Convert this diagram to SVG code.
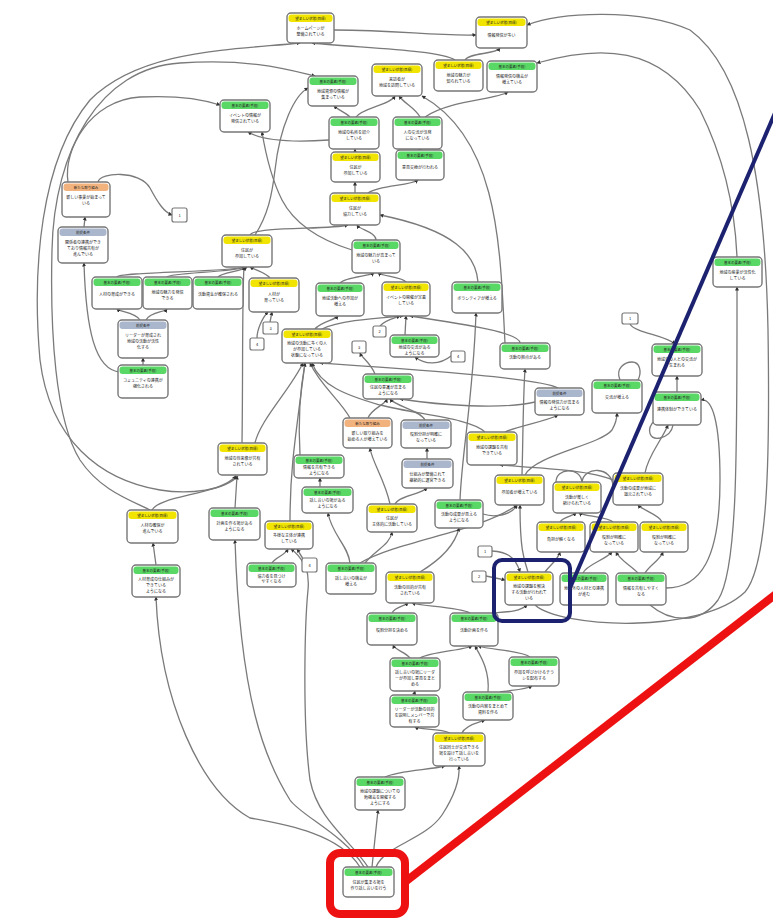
<svg xmlns="http://www.w3.org/2000/svg" width="773" height="920" viewBox="0 0 773 920">
<defs>
<marker id="a" markerWidth="4" markerHeight="4" refX="3.5" refY="2" orient="auto" markerUnits="userSpaceOnUse"><path d="M0,0 L4,2 L0,4z" fill="#333"/></marker>
<style>
.b{fill:#fff;stroke:#777;stroke-width:1.4}
.hy{fill:#f0e400}.hg{fill:#5ad865}.ho{fill:#f2b27e}.hb{fill:#a9b6cc}
.t{font-family:"Noto Sans CJK JP","Noto Sans",sans-serif;font-size:4px;fill:#222;text-anchor:middle}
.h{font-size:3.5px}
.e{fill:none;stroke:#7a7a7a;stroke-width:1.3;marker-end:url(#a)}
.l{fill:none;stroke:#7a7a7a;stroke-width:1.3}
.s{fill:#fff;stroke:#777;stroke-width:1.2}
</style>
</defs>
<rect width="773" height="920" fill="#fff"/>
<g id="connectors">
<path class="e" d="M455,60 C440,50 360,48 312,43"/>
<path class="e" d="M334,30 C400,30 430,36 476,35"/>
<path class="e" d="M465,60 C470,52 495,55 500,48"/>
<path class="e" d="M356,117 C362,108 390,105 395,96"/>
<path class="e" d="M420,117 C415,108 405,104 399,96"/>
<path class="e" d="M425,117 C450,100 495,100 508,92"/>
<path class="e" d="M350,117 C345,112 338,110 334,106"/>
<path class="e" d="M355,152 L355,149"/>
<path class="e" d="M420,150 L418,149"/>
<path class="e" d="M355,193 L355,182"/>
<path class="e" d="M368,193 C380,185 410,186 418,180"/>
<path class="e" d="M376,240 C376,232 360,230 357,225"/>
<path class="e" d="M250,235 C255,226 330,230 348,225"/>
<path class="e" d="M329,140 C300,142 265,142 248,132"/>
<path class="e" d="M255,235 C268,215 272,195 275,170 C280,125 295,95 308,88"/>
<path class="e" d="M352,250 C320,240 295,225 282,200 C272,180 265,150 262,132"/>
<path class="e" d="M478,282 C476,255 455,230 380,215"/>
<path class="e" d="M505,343 C500,250 500,140 422,96"/>
<path class="e" d="M238,476 C225,490 190,495 160,490 C100,480 50,440 40,360 C32,270 40,160 90,100 C140,50 230,50 300,43"/>
<path class="e" d="M150,510 C130,500 100,490 80,460 C55,420 50,330 52,250 C54,150 100,68 180,63 C250,58 290,70 315,76"/>
<path class="e" d="M68,182 C63,150 90,100 140,97 C180,95 205,100 220,105"/>
<path class="e" d="M84,227 L85,217"/>
<path class="e" d="M98,182 C100,172 140,170 150,188 C158,203 164,212 172,215"/>
<path class="e" d="M120,372 C95,370 86,330 84,263"/>
<path class="e" d="M143,365 L143,358"/>
<path class="e" d="M140,320 C135,312 120,312 117,309"/>
<path class="e" d="M146,320 C150,312 165,312 167,309"/>
<path class="e" d="M117,277 C117,272 230,272 245,267"/>
<path class="e" d="M167,277 C170,273 235,272 246,267"/>
<path class="e" d="M218,277 C222,272 240,272 247,267"/>
<path class="e" d="M270,278 C265,272 255,270 250,267"/>
<path class="e" d="M270,322 L272,312"/>
<path class="e" d="M257,338 C257,330 262,318 268,312"/>
<path class="e" d="M242,443 C243,380 242,300 244,267"/>
<path class="e" d="M255,443 C260,420 290,390 303,363"/>
<path class="e" d="M152,510 C160,495 220,495 236,476"/>
<path class="e" d="M235,508 L237,476"/>
<path class="e" d="M156,565 L153,543"/>
<path class="e" d="M290,521 C290,470 295,440 305,363"/>
<path class="e" d="M272,563 C275,558 285,555 288,549"/>
<path class="e" d="M303,563 C300,556 295,552 291,549"/>
<path class="e" d="M300,455 C298,420 300,390 305,363"/>
<path class="e" d="M320,487 L320,478"/>
<path class="e" d="M350,418 C340,400 320,385 310,363"/>
<path class="e" d="M390,504 C385,480 372,462 370,448"/>
<path class="e" d="M395,504 C400,495 420,495 427,488"/>
<path class="e" d="M427,459 L427,448"/>
<path class="e" d="M368,418 C372,408 385,405 387,399"/>
<path class="e" d="M425,420 C420,410 395,406 390,399"/>
<path class="e" d="M485,432 C470,418 420,415 380,405 C345,395 320,385 312,363"/>
<path class="e" d="M558,388 C540,378 420,370 320,363"/>
<path class="e" d="M535,402 C500,410 440,405 400,399"/>
<path class="e" d="M505,432 C520,425 545,422 558,415"/>
<path class="e" d="M460,500 C462,450 473,400 476,313"/>
<path class="e" d="M315,329 C320,322 335,320 338,316"/>
<path class="e" d="M322,329 C340,320 380,318 403,316"/>
<path class="e" d="M405,335 L406,316"/>
<path class="e" d="M520,343 C520,333 470,325 410,316"/>
<path class="e" d="M380,326 C385,320 395,318 400,316"/>
<path class="e" d="M340,283 C345,277 370,276 374,273"/>
<path class="e" d="M406,282 C402,277 382,276 378,273"/>
<path class="e" d="M451,356 C440,365 425,365 415,357"/>
<path class="e" d="M375,374 C370,362 362,358 360,353"/>
<path class="e" d="M350,563 C348,545 332,535 328,513"/>
<path class="e" d="M365,563 C375,550 390,545 392,532"/>
<path class="e" d="M360,563 C400,540 480,532 517,505"/>
<path class="e" d="M420,572 C440,560 455,545 459,528"/>
<path class="e" d="M360,867 C340,835 290,825 250,818 C200,790 160,700 156,597"/>
<path class="e" d="M364,867 C345,835 300,815 290,800 C265,760 240,700 235,540"/>
<path class="e" d="M368,867 C350,840 318,820 310,780 C302,720 305,620 308,590 C310,570 302,556 297,549"/>
<path class="e" d="M372,867 L378,810"/>
<path class="e" d="M376,867 C385,845 425,840 442,815 C455,795 460,780 459,766"/>
<path class="e" d="M385,777 C400,770 430,770 445,766"/>
<path class="e" d="M462,733 C465,725 480,722 485,720"/>
<path class="e" d="M450,733 C440,728 420,730 415,727"/>
<path class="e" d="M414,695 L415,691"/>
<path class="e" d="M488,692 C490,670 480,655 475,646"/>
<path class="e" d="M500,692 C510,690 525,690 532,686"/>
<path class="e" d="M410,658 C405,652 395,650 393,645"/>
<path class="e" d="M420,658 C430,652 465,650 472,646"/>
<path class="e" d="M530,657 C520,650 490,650 478,646"/>
<path class="e" d="M392,613 C395,607 405,606 408,603"/>
<path class="e" d="M470,613 C460,607 420,606 412,603"/>
<path class="e" d="M492,613 C505,612 520,612 527,605"/>
<path class="e" d="M528,572 C524,560 520,550 520,505"/>
<path class="e" d="M545,572 C550,565 558,560 560,552"/>
<path class="e" d="M492,551 C505,552 515,555 520,572"/>
<path class="e" d="M486,576 L505,580"/>
<path class="e" d="M583,573 C586,565 605,560 612,552"/>
<path class="e" d="M638,573 C630,565 620,560 616,552"/>
<path class="e" d="M645,573 C650,565 660,560 663,552"/>
<path class="e" d="M560,522 C563,517 573,516 576,513"/>
<path class="e" d="M613,522 C608,517 583,516 579,513"/>
<path class="e" d="M662,522 C660,515 642,510 638,505"/>
<path class="e" d="M522,475 C523,440 523,400 525,369"/>
<path class="e" d="M525,475 C535,455 600,445 612,430 C616,423 617,418 617,413"/>
<path class="e" d="M613,480 C590,470 540,468 500,465"/>
<path class="e" d="M483,514 C495,518 512,515 517,505"/>
<path class="e" d="M677,392 L677,376"/>
<path class="e" d="M630,324 C635,333 665,335 675,344"/>
<path class="e" d="M645,473 C648,455 662,440 668,425"/>
<path class="l" d="M655,420 C645,430 650,440 660,438 C668,436 672,432 673,425"/>
<path class="l" d="M620,380 C615,368 625,362 632,362 C640,362 642,372 638,380"/>
<path class="l" d="M556,482 C556,468 580,466 582,482"/>
<path class="l" d="M582,482 C584,466 612,466 613,486"/>
<path class="e" d="M535,605 C560,628 700,635 745,592 C768,565 770,460 768,330 C765,180 745,70 690,30 C640,8 560,12 527,25"/>
<path class="e" d="M650,605 C670,622 700,625 718,600 C738,570 737,450 737,287"/>
<path class="e" d="M737,257 C735,210 725,160 700,110 C660,45 600,45 537,63"/>
<path class="e" d="M666,588 C700,588 720,560 720,480 C720,420 712,398 701,400"/>
</g>
<g id="n1" transform="translate(287,13)"><rect class="b" width="47" height="30" rx="4"/><rect class="hy" x="1.5" y="1.5" width="44" height="7.5" rx="3"/><text class="t h" x="23.5" y="6.8">望ましい状態(目標)</text><text class="t" x="23.5" y="17">ホームページが</text><text class="t" x="23.5" y="23">整備されている</text></g>
<g id="n2" transform="translate(476,17)"><rect class="b" width="51" height="31" rx="4"/><rect class="hy" x="1.5" y="1.5" width="48" height="7.5" rx="3"/><text class="t h" x="25.5" y="6.8">望ましい状態(目標)</text><text class="t" x="25.5" y="20">情報発信が多い</text></g>
<g id="n3" transform="translate(372,64)"><rect class="b" width="50" height="32" rx="4"/><rect class="hy" x="1.5" y="1.5" width="47" height="7.5" rx="3"/><text class="t h" x="25" y="6.8">望ましい状態(目標)</text><text class="t" x="25" y="17">来訪者が</text><text class="t" x="25" y="23">地域を訪問している</text></g>
<g id="n4" transform="translate(434,60)"><rect class="b" width="49" height="31" rx="4"/><rect class="hy" x="1.5" y="1.5" width="46" height="7.5" rx="3"/><text class="t h" x="24.5" y="6.8">望ましい状態(目標)</text><text class="t" x="24.5" y="17">地域の魅力が</text><text class="t" x="24.5" y="23">知られている</text></g>
<g id="n5" transform="translate(487,61)"><rect class="b" width="50" height="31" rx="4"/><rect class="hg" x="1.5" y="1.5" width="47" height="7.5" rx="3"/><text class="t h" x="25" y="6.8">基本の要素(手段)</text><text class="t" x="25" y="17">情報発信の機会が</text><text class="t" x="25" y="23">増えている</text></g>
<g id="n6" transform="translate(308,76)"><rect class="b" width="50" height="30" rx="4"/><rect class="hg" x="1.5" y="1.5" width="47" height="7.5" rx="3"/><text class="t h" x="25" y="6.8">基本の要素(手段)</text><text class="t" x="25" y="17">地域資源の情報が</text><text class="t" x="25" y="23">集まっている</text></g>
<g id="n7" transform="translate(329,117)"><rect class="b" width="50" height="32" rx="4"/><rect class="hg" x="1.5" y="1.5" width="47" height="7.5" rx="3"/><text class="t h" x="25" y="6.8">基本の要素(手段)</text><text class="t" x="25" y="17">地域の名所を紹介</text><text class="t" x="25" y="23">している</text></g>
<g id="n8" transform="translate(393,117)"><rect class="b" width="49" height="32" rx="4"/><rect class="hg" x="1.5" y="1.5" width="46" height="7.5" rx="3"/><text class="t h" x="24.5" y="6.8">基本の要素(手段)</text><text class="t" x="24.5" y="17">人の交流が活発</text><text class="t" x="24.5" y="23">になっている</text></g>
<g id="n9" transform="translate(220,100)"><rect class="b" width="50" height="32" rx="4"/><rect class="hg" x="1.5" y="1.5" width="47" height="7.5" rx="3"/><text class="t h" x="25" y="6.8">基本の要素(手段)</text><text class="t" x="25" y="17">イベントの情報が</text><text class="t" x="25" y="23">発信されている</text></g>
<g id="n10" transform="translate(331,152)"><rect class="b" width="49" height="30" rx="4"/><rect class="hy" x="1.5" y="1.5" width="46" height="7.5" rx="3"/><text class="t h" x="24.5" y="6.8">望ましい状態(目標)</text><text class="t" x="24.5" y="17">住民が</text><text class="t" x="24.5" y="23">参加している</text></g>
<g id="n11" transform="translate(396,150)"><rect class="b" width="48" height="30" rx="4"/><rect class="hg" x="1.5" y="1.5" width="45" height="7.5" rx="3"/><text class="t h" x="24" y="6.8">基本の要素(手段)</text><text class="t" x="24" y="19">意見交換が行われる</text></g>
<g id="n12" transform="translate(330,193)"><rect class="b" width="50" height="32" rx="4"/><rect class="hy" x="1.5" y="1.5" width="47" height="7.5" rx="3"/><text class="t h" x="25" y="6.8">望ましい状態(目標)</text><text class="t" x="25" y="17">住民が</text><text class="t" x="25" y="23">協力している</text></g>
<g id="n13" transform="translate(62,182)"><rect class="b" width="48" height="35" rx="4"/><rect class="ho" x="1.5" y="1.5" width="45" height="7.5" rx="3"/><text class="t h" x="24" y="6.8">新たな取り組み</text><text class="t" x="24" y="17">新しい事業が始まって</text><text class="t" x="24" y="23">いる</text></g>
<g id="n14" transform="translate(58,227)"><rect class="b" width="50" height="36" rx="4"/><rect class="hb" x="1.5" y="1.5" width="47" height="7.5" rx="3"/><text class="t h" x="25" y="6.8">前提条件</text><text class="t" x="25" y="17">関係者の連携ができ</text><text class="t" x="25" y="23">ており情報共有が</text><text class="t" x="25" y="29">進んでいる</text></g>
<g id="n15"><rect class="s" x="172" y="208" width="15" height="14" rx="2"/><text class="t" x="179.5" y="216.5">1</text></g>
<g id="n16" transform="translate(222,235)"><rect class="b" width="50" height="32" rx="4"/><rect class="hy" x="1.5" y="1.5" width="47" height="7.5" rx="3"/><text class="t h" x="25" y="6.8">望ましい状態(目標)</text><text class="t" x="25" y="17">住民が</text><text class="t" x="25" y="23">参加している</text></g>
<g id="n17" transform="translate(92,277)"><rect class="b" width="50" height="32" rx="4"/><rect class="hg" x="1.5" y="1.5" width="47" height="7.5" rx="3"/><text class="t h" x="25" y="6.8">基本の要素(手段)</text><text class="t" x="25" y="19">人材の育成ができる</text></g>
<g id="n18" transform="translate(143,277)"><rect class="b" width="49" height="32" rx="4"/><rect class="hg" x="1.5" y="1.5" width="46" height="7.5" rx="3"/><text class="t h" x="24.5" y="6.8">基本の要素(手段)</text><text class="t" x="24.5" y="17">地域の魅力を発信</text><text class="t" x="24.5" y="23">できる</text></g>
<g id="n19" transform="translate(193,277)"><rect class="b" width="50" height="32" rx="4"/><rect class="hg" x="1.5" y="1.5" width="47" height="7.5" rx="3"/><text class="t h" x="25" y="6.8">基本の要素(手段)</text><text class="t" x="25" y="19">活動資金が確保される</text></g>
<g id="n20" transform="translate(249,278)"><rect class="b" width="50" height="34" rx="4"/><rect class="hy" x="1.5" y="1.5" width="47" height="7.5" rx="3"/><text class="t h" x="25" y="6.8">望ましい状態(目標)</text><text class="t" x="25" y="18">人材が</text><text class="t" x="25" y="24">育っている</text></g>
<g id="n21" transform="translate(118,320)"><rect class="b" width="50" height="38" rx="4"/><rect class="hb" x="1.5" y="1.5" width="47" height="7.5" rx="3"/><text class="t h" x="25" y="6.8">前提条件</text><text class="t" x="25" y="17">リーダーが育成され</text><text class="t" x="25" y="23">地域の活動が活性</text><text class="t" x="25" y="29">化する</text></g>
<g id="n22" transform="translate(118,365)"><rect class="b" width="50" height="33" rx="4"/><rect class="hg" x="1.5" y="1.5" width="47" height="7.5" rx="3"/><text class="t h" x="25" y="6.8">基本の要素(手段)</text><text class="t" x="25" y="17">コミュニティの連携が</text><text class="t" x="25" y="23">強化される</text></g>
<g id="n23"><rect class="s" x="263" y="322" width="15" height="12" rx="2"/><text class="t" x="270.5" y="329.5">3</text></g>
<g id="n24"><rect class="s" x="250" y="338" width="14" height="12" rx="2"/><text class="t" x="257" y="345.5">4</text></g>
<g id="n25" transform="translate(352,240)"><rect class="b" width="48" height="33" rx="4"/><rect class="hg" x="1.5" y="1.5" width="45" height="7.5" rx="3"/><text class="t h" x="24" y="6.8">基本の要素(手段)</text><text class="t" x="24" y="17">地域の魅力が高まって</text><text class="t" x="24" y="23">いる</text></g>
<g id="n26" transform="translate(316,283)"><rect class="b" width="48" height="33" rx="4"/><rect class="hg" x="1.5" y="1.5" width="45" height="7.5" rx="3"/><text class="t h" x="24" y="6.8">基本の要素(手段)</text><text class="t" x="24" y="17">地域活動への参加が</text><text class="t" x="24" y="23">増える</text></g>
<g id="n27" transform="translate(382,282)"><rect class="b" width="48" height="34" rx="4"/><rect class="hy" x="1.5" y="1.5" width="45" height="7.5" rx="3"/><text class="t h" x="24" y="6.8">望ましい状態(目標)</text><text class="t" x="24" y="17">イベントの開催が定着</text><text class="t" x="24" y="23">している</text></g>
<g id="n28" transform="translate(452,282)"><rect class="b" width="50" height="31" rx="4"/><rect class="hg" x="1.5" y="1.5" width="47" height="7.5" rx="3"/><text class="t h" x="25" y="6.8">基本の要素(手段)</text><text class="t" x="25" y="18">ボランティアが増える</text></g>
<g id="n29" transform="translate(282,329)"><rect class="b" width="50" height="34" rx="4"/><rect class="hy" x="1.5" y="1.5" width="47" height="7.5" rx="3"/><text class="t h" x="25" y="6.8">望ましい状態(目標)</text><text class="t" x="25" y="16">地域の活動に多くの人</text><text class="t" x="25" y="22">が参加している</text><text class="t" x="25" y="28">状態になっている</text></g>
<g id="n30"><rect class="s" x="373" y="326" width="13" height="11" rx="2"/><text class="t" x="379.5" y="333">2</text></g>
<g id="n31"><rect class="s" x="352" y="341" width="14" height="12" rx="2"/><text class="t" x="359" y="348.5">3</text></g>
<g id="n32" transform="translate(390,335)"><rect class="b" width="49" height="22" rx="4"/><rect class="hg" x="1.5" y="1.5" width="46" height="7.5" rx="3"/><text class="t h" x="24.5" y="6.8">基本の要素(手段)</text><text class="t" x="24.5" y="14">地域の交流がある</text><text class="t" x="24.5" y="19.5">ようになる</text></g>
<g id="n33"><rect class="s" x="451" y="351" width="14" height="11" rx="2"/><text class="t" x="458" y="358">4</text></g>
<g id="n34" transform="translate(500,343)"><rect class="b" width="50" height="26" rx="4"/><rect class="hg" x="1.5" y="1.5" width="47" height="7.5" rx="3"/><text class="t h" x="25" y="6.8">基本の要素(手段)</text><text class="t" x="25" y="16">活動の拠点がある</text></g>
<g id="n35" transform="translate(363,374)"><rect class="b" width="50" height="25" rx="4"/><rect class="hg" x="1.5" y="1.5" width="47" height="7.5" rx="3"/><text class="t h" x="25" y="6.8">基本の要素(手段)</text><text class="t" x="25" y="15">住民の意識が高まる</text><text class="t" x="25" y="21">ようになる</text></g>
<g id="n36" transform="translate(535,388)"><rect class="b" width="49" height="27" rx="4"/><rect class="hb" x="1.5" y="1.5" width="46" height="7.5" rx="3"/><text class="t h" x="24.5" y="6.8">前提条件</text><text class="t" x="24.5" y="15.5">情報の発信力が高まる</text><text class="t" x="24.5" y="21.5">ようになる</text></g>
<g id="n37" transform="translate(592,380)"><rect class="b" width="50" height="33" rx="4"/><rect class="hg" x="1.5" y="1.5" width="47" height="7.5" rx="3"/><text class="t h" x="25" y="6.8">基本の要素(手段)</text><text class="t" x="25" y="19">交流が増える</text></g>
<g id="n38"><rect class="s" x="622" y="313" width="16" height="11" rx="2"/><text class="t" x="630" y="320">1</text></g>
<g id="n39" transform="translate(652,344)"><rect class="b" width="50" height="32" rx="4"/><rect class="hg" x="1.5" y="1.5" width="47" height="7.5" rx="3"/><text class="t h" x="25" y="6.8">基本の要素(手段)</text><text class="t" x="25" y="17">地域外の人との交流が</text><text class="t" x="25" y="23">生まれる</text></g>
<g id="n40" transform="translate(653,392)"><rect class="b" width="48" height="33" rx="4"/><rect class="hg" x="1.5" y="1.5" width="45" height="7.5" rx="3"/><text class="t h" x="24" y="6.8">基本の要素(手段)</text><text class="t" x="24" y="19">連携体制ができている</text></g>
<g id="n41" transform="translate(713,257)"><rect class="b" width="49" height="30" rx="4"/><rect class="hg" x="1.5" y="1.5" width="46" height="7.5" rx="3"/><text class="t h" x="24.5" y="6.8">基本の要素(手段)</text><text class="t" x="24.5" y="17">地域の産業が活性化</text><text class="t" x="24.5" y="23">している</text></g>
<g id="n42" transform="translate(343,418)"><rect class="b" width="49" height="30" rx="4"/><rect class="ho" x="1.5" y="1.5" width="46" height="7.5" rx="3"/><text class="t h" x="24.5" y="6.8">新たな取り組み</text><text class="t" x="24.5" y="17">新しい取り組みを</text><text class="t" x="24.5" y="23">始める人が増えている</text></g>
<g id="n43" transform="translate(401,420)"><rect class="b" width="50" height="28" rx="4"/><rect class="hb" x="1.5" y="1.5" width="47" height="7.5" rx="3"/><text class="t h" x="25" y="6.8">前提条件</text><text class="t" x="25" y="16">役割分担が明確に</text><text class="t" x="25" y="22">なっている</text></g>
<g id="n44" transform="translate(402,459)"><rect class="b" width="51" height="29" rx="4"/><rect class="hb" x="1.5" y="1.5" width="48" height="7.5" rx="3"/><text class="t h" x="25.5" y="6.8">前提条件</text><text class="t" x="25.5" y="16.5">仕組みが整備されて</text><text class="t" x="25.5" y="22.5">継続的に運営できる</text></g>
<g id="n45" transform="translate(467,432)"><rect class="b" width="50" height="33" rx="4"/><rect class="hy" x="1.5" y="1.5" width="47" height="7.5" rx="3"/><text class="t h" x="25" y="6.8">望ましい状態(目標)</text><text class="t" x="25" y="17">地域の課題を共有</text><text class="t" x="25" y="23">できている</text></g>
<g id="n46" transform="translate(294,455)"><rect class="b" width="50" height="23" rx="4"/><rect class="hg" x="1.5" y="1.5" width="47" height="7.5" rx="3"/><text class="t h" x="25" y="6.8">基本の要素(手段)</text><text class="t" x="25" y="14">情報を共有できる</text><text class="t" x="25" y="19.5">ようになる</text></g>
<g id="n47" transform="translate(302,487)"><rect class="b" width="51" height="26" rx="4"/><rect class="hg" x="1.5" y="1.5" width="48" height="7.5" rx="3"/><text class="t h" x="25.5" y="6.8">基本の要素(手段)</text><text class="t" x="25.5" y="15">話し合いの場がある</text><text class="t" x="25.5" y="21">ようになる</text></g>
<g id="n48" transform="translate(367,504)"><rect class="b" width="50" height="28" rx="4"/><rect class="hy" x="1.5" y="1.5" width="47" height="7.5" rx="3"/><text class="t h" x="25" y="6.8">望ましい状態(目標)</text><text class="t" x="25" y="16">住民が</text><text class="t" x="25" y="22">主体的に活動している</text></g>
<g id="n49" transform="translate(435,500)"><rect class="b" width="48" height="28" rx="4"/><rect class="hg" x="1.5" y="1.5" width="45" height="7.5" rx="3"/><text class="t h" x="24" y="6.8">基本の要素(手段)</text><text class="t" x="24" y="16">活動の成果が見える</text><text class="t" x="24" y="22">ようになる</text></g>
<g id="n50"><rect class="s" x="478" y="546" width="14" height="11" rx="2"/><text class="t" x="485" y="553">1</text></g>
<g id="n51"><rect class="s" x="472" y="571" width="14" height="11" rx="2"/><text class="t" x="479" y="578">2</text></g>
<g id="n52" transform="translate(218,443)"><rect class="b" width="49" height="32" rx="4"/><rect class="hy" x="1.5" y="1.5" width="46" height="7.5" rx="3"/><text class="t h" x="24.5" y="6.8">望ましい状態(目標)</text><text class="t" x="24.5" y="17">地域の将来像が共有</text><text class="t" x="24.5" y="23">されている</text></g>
<g id="n53" transform="translate(209,508)"><rect class="b" width="51" height="32" rx="4"/><rect class="hg" x="1.5" y="1.5" width="48" height="7.5" rx="3"/><text class="t h" x="25.5" y="6.8">基本の要素(手段)</text><text class="t" x="25.5" y="17">計画を作る場がある</text><text class="t" x="25.5" y="23">ようになる</text></g>
<g id="n54" transform="translate(127,510)"><rect class="b" width="51" height="33" rx="4"/><rect class="hy" x="1.5" y="1.5" width="48" height="7.5" rx="3"/><text class="t h" x="25.5" y="6.8">望ましい状態(目標)</text><text class="t" x="25.5" y="17">人材の確保が</text><text class="t" x="25.5" y="23">進んでいる</text></g>
<g id="n55" transform="translate(132,565)"><rect class="b" width="48" height="32" rx="4"/><rect class="hg" x="1.5" y="1.5" width="45" height="7.5" rx="3"/><text class="t h" x="24" y="6.8">基本の要素(手段)</text><text class="t" x="24" y="16">人材育成の仕組みが</text><text class="t" x="24" y="22">できている</text><text class="t" x="24" y="28">ようになる</text></g>
<g id="n56" transform="translate(265,521)"><rect class="b" width="48" height="28" rx="4"/><rect class="hy" x="1.5" y="1.5" width="45" height="7.5" rx="3"/><text class="t h" x="24" y="6.8">望ましい状態(目標)</text><text class="t" x="24" y="16">多様な主体が連携</text><text class="t" x="24" y="22">している</text></g>
<g id="n57" transform="translate(247,563)"><rect class="b" width="49" height="24" rx="4"/><rect class="hg" x="1.5" y="1.5" width="46" height="7.5" rx="3"/><text class="t h" x="24.5" y="6.8">基本の要素(手段)</text><text class="t" x="24.5" y="14.5">協力者を見つけ</text><text class="t" x="24.5" y="20">やすくなる</text></g>
<g id="n58"><rect class="s" x="302" y="558" width="15" height="14" rx="2"/><text class="t" x="309.5" y="566.5">4</text></g>
<g id="n59" transform="translate(326,563)"><rect class="b" width="50" height="31" rx="4"/><rect class="hg" x="1.5" y="1.5" width="47" height="7.5" rx="3"/><text class="t h" x="25" y="6.8">基本の要素(手段)</text><text class="t" x="25" y="17">話し合いの機会が</text><text class="t" x="25" y="23">増える</text></g>
<g id="n60" transform="translate(386,572)"><rect class="b" width="48" height="31" rx="4"/><rect class="hy" x="1.5" y="1.5" width="45" height="7.5" rx="3"/><text class="t h" x="24" y="6.8">望ましい状態(目標)</text><text class="t" x="24" y="17">活動の目的が共有</text><text class="t" x="24" y="23">されている</text></g>
<g id="n61" transform="translate(495,475)"><rect class="b" width="49" height="30" rx="4"/><rect class="hy" x="1.5" y="1.5" width="46" height="7.5" rx="3"/><text class="t h" x="24.5" y="6.8">望ましい状態(目標)</text><text class="t" x="24.5" y="19">参加者が増えている</text></g>
<g id="n62" transform="translate(553,482)"><rect class="b" width="48" height="31" rx="4"/><rect class="hy" x="1.5" y="1.5" width="45" height="7.5" rx="3"/><text class="t h" x="24" y="6.8">望ましい状態(目標)</text><text class="t" x="24" y="17">活動が楽しく</text><text class="t" x="24" y="23">続けられている</text></g>
<g id="n63" transform="translate(613,473)"><rect class="b" width="50" height="32" rx="4"/><rect class="hy" x="1.5" y="1.5" width="47" height="7.5" rx="3"/><text class="t h" x="25" y="6.8">望ましい状態(目標)</text><text class="t" x="25" y="17">活動の成果が地域に</text><text class="t" x="25" y="23">還元されている</text></g>
<g id="n64" transform="translate(537,522)"><rect class="b" width="48" height="30" rx="4"/><rect class="hy" x="1.5" y="1.5" width="45" height="7.5" rx="3"/><text class="t h" x="24" y="6.8">望ましい状態(目標)</text><text class="t" x="24" y="19">負担が軽くなる</text></g>
<g id="n65" transform="translate(590,522)"><rect class="b" width="48" height="30" rx="4"/><rect class="hy" x="1.5" y="1.5" width="45" height="7.5" rx="3"/><text class="t h" x="24" y="6.8">望ましい状態(目標)</text><text class="t" x="24" y="17">役割が明確に</text><text class="t" x="24" y="23">なっている</text></g>
<g id="n66" transform="translate(640,522)"><rect class="b" width="48" height="30" rx="4"/><rect class="hy" x="1.5" y="1.5" width="45" height="7.5" rx="3"/><text class="t h" x="24" y="6.8">望ましい状態(目標)</text><text class="t" x="24" y="17">役割が明確に</text><text class="t" x="24" y="23">なっている</text></g>
<g id="n67" transform="translate(505,572)"><rect class="b" width="48" height="33" rx="4"/><rect class="hy" x="1.5" y="1.5" width="45" height="7.5" rx="3"/><text class="t h" x="24" y="6.8">望ましい状態(目標)</text><text class="t" x="24" y="16">地域の課題を解決</text><text class="t" x="24" y="22">する活動が行われて</text><text class="t" x="24" y="28">いる</text></g>
<g id="n68" transform="translate(560,573)"><rect class="b" width="48" height="32" rx="4"/><rect class="hg" x="1.5" y="1.5" width="45" height="7.5" rx="3"/><text class="t h" x="24" y="6.8">基本の要素(手段)</text><text class="t" x="24" y="17">地域外の人材との連携</text><text class="t" x="24" y="23">が進む</text></g>
<g id="n69" transform="translate(616,573)"><rect class="b" width="50" height="32" rx="4"/><rect class="hg" x="1.5" y="1.5" width="47" height="7.5" rx="3"/><text class="t h" x="25" y="6.8">基本の要素(手段)</text><text class="t" x="25" y="17">情報を共有しやすく</text><text class="t" x="25" y="23">なる</text></g>
<g id="n70" transform="translate(367,613)"><rect class="b" width="50" height="32" rx="4"/><rect class="hg" x="1.5" y="1.5" width="47" height="7.5" rx="3"/><text class="t h" x="25" y="6.8">基本の要素(手段)</text><text class="t" x="25" y="19">役割分担を決める</text></g>
<g id="n71" transform="translate(450,613)"><rect class="b" width="48" height="33" rx="4"/><rect class="hg" x="1.5" y="1.5" width="45" height="7.5" rx="3"/><text class="t h" x="24" y="6.8">基本の要素(手段)</text><text class="t" x="24" y="19">活動計画を作る</text></g>
<g id="n72" transform="translate(390,658)"><rect class="b" width="50" height="33" rx="4"/><rect class="hg" x="1.5" y="1.5" width="47" height="7.5" rx="3"/><text class="t h" x="25" y="6.8">基本の要素(手段)</text><text class="t" x="25" y="16">話し合いの場にリーダ</text><text class="t" x="25" y="22">ーが参加し意見をまと</text><text class="t" x="25" y="28">める</text></g>
<g id="n73" transform="translate(509,657)"><rect class="b" width="50" height="29" rx="4"/><rect class="hg" x="1.5" y="1.5" width="47" height="7.5" rx="3"/><text class="t h" x="25" y="6.8">基本の要素(手段)</text><text class="t" x="25" y="16.5">参加を呼びかけるチラ</text><text class="t" x="25" y="22.5">シを配布する</text></g>
<g id="n74" transform="translate(390,695)"><rect class="b" width="49" height="32" rx="4"/><rect class="hg" x="1.5" y="1.5" width="46" height="7.5" rx="3"/><text class="t h" x="24.5" y="6.8">基本の要素(手段)</text><text class="t" x="24.5" y="16">リーダーが活動の目的</text><text class="t" x="24.5" y="22">を説明しメンバーで共</text><text class="t" x="24.5" y="28">有する</text></g>
<g id="n75" transform="translate(463,692)"><rect class="b" width="50" height="28" rx="4"/><rect class="hg" x="1.5" y="1.5" width="47" height="7.5" rx="3"/><text class="t h" x="25" y="6.8">基本の要素(手段)</text><text class="t" x="25" y="16">活動の内容をまとめて</text><text class="t" x="25" y="22">資料を作る</text></g>
<g id="n76" transform="translate(433,733)"><rect class="b" width="52" height="33" rx="4"/><rect class="hy" x="1.5" y="1.5" width="49" height="7.5" rx="3"/><text class="t h" x="26" y="6.8">望ましい状態(目標)</text><text class="t" x="26" y="16">住民同士が交流できる</text><text class="t" x="26" y="22">場を設けて話し合いを</text><text class="t" x="26" y="28">行っている</text></g>
<g id="n77" transform="translate(355,777)"><rect class="b" width="50" height="33" rx="4"/><rect class="hg" x="1.5" y="1.5" width="47" height="7.5" rx="3"/><text class="t h" x="25" y="6.8">基本の要素(手段)</text><text class="t" x="25" y="16">地域の課題についての</text><text class="t" x="25" y="22">勉強会を開催する</text><text class="t" x="25" y="28">ようにする</text></g>
<g id="n78" transform="translate(343,867)"><rect class="b" width="51" height="30" rx="4"/><rect class="hg" x="1.5" y="1.5" width="48" height="7.5" rx="3"/><text class="t h" x="25.5" y="6.8">基本の要素(手段)</text><text class="t" x="25.5" y="17">住民が集まる場を</text><text class="t" x="25.5" y="23">作り話し合いを行う</text></g>
<g id="highlight-red" fill="none" stroke="#ee1111" stroke-width="8"><rect x="330" y="853" width="75" height="61" rx="10"/><path d="M405,882 L776,594"/></g>
<g id="highlight-navy" fill="none" stroke="#1c2270" stroke-width="4"><rect x="494" y="560" width="76" height="61" rx="8"/><path d="M570,588 L778,106"/></g>
</svg>
